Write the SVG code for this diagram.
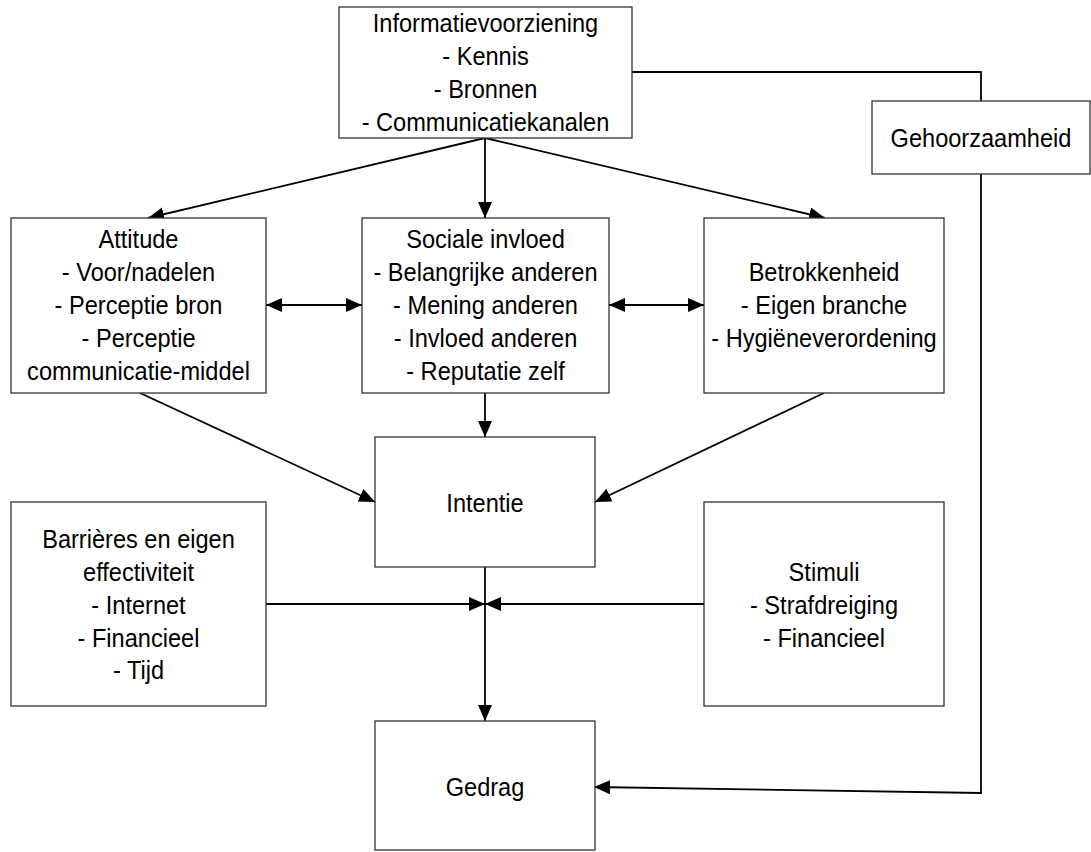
<svg xmlns="http://www.w3.org/2000/svg" width="1091" height="852" viewBox="0 0 1091 852">
  <style>
    .box { fill: #ffffff; stroke: #333333; stroke-width: 1.3; }
    .lbl { font-family: "Liberation Sans", Arial, sans-serif; font-size: 26.5px; fill: #000000; text-anchor: middle; }
    .wire { fill: none; stroke: #000000; stroke-width: 1.8; }
    .arrow { marker-end: url(#head); }
    .both { marker-start: url(#head); marker-end: url(#head); }
  </style>
  <defs>
    <marker id="head" markerUnits="userSpaceOnUse" markerWidth="18" markerHeight="16" refX="16" refY="7" orient="auto-start-reverse">
      <path d="M0,0 L16,7 L0,14 z" fill="#000000"/>
    </marker>
  </defs>

  <!-- connectors -->
  <g id="connectors">
    <line class="wire arrow" x1="485" y1="138" x2="148" y2="218"/>
    <line class="wire arrow" x1="485" y1="138" x2="485" y2="218"/>
    <line class="wire arrow" x1="485" y1="138" x2="825" y2="218"/>
    <line class="wire both" x1="266" y1="305" x2="362" y2="305"/>
    <line class="wire both" x1="609" y1="305" x2="704" y2="305"/>
    <line class="wire arrow" x1="140" y1="393" x2="375" y2="502"/>
    <line class="wire arrow" x1="485" y1="393" x2="485" y2="437"/>
    <line class="wire arrow" x1="824" y1="393" x2="595" y2="502"/>
    <line class="wire arrow" x1="485" y1="567" x2="485" y2="721"/>
    <line class="wire arrow" x1="266" y1="604" x2="485" y2="604"/>
    <line class="wire arrow" x1="704" y1="604" x2="485" y2="604"/>
    <path class="wire arrow" d="M632,72 L981,72 L981,793 L594,787"/>
  </g>

  <!-- nodes -->
  <g id="informatievoorziening">
    <rect class="box" x="339" y="7" width="293" height="131"/>
    <g class="lbl" transform="translate(485.5,0) scale(0.89,1)">
      <text x="0" y="32">Informatievoorziening</text>
      <text x="0" y="65">- Kennis</text>
      <text x="0" y="98">- Bronnen</text>
      <text x="0" y="131">- Communicatiekanalen</text>
    </g>
  </g>

  <g id="gehoorzaamheid">
    <rect class="box" x="872" y="101" width="218" height="73"/>
    <g class="lbl" transform="translate(981,0) scale(0.89,1)">
      <text x="0" y="147">Gehoorzaamheid</text>
    </g>
  </g>

  <g id="attitude">
    <rect class="box" x="11" y="218" width="255" height="175"/>
    <g class="lbl" transform="translate(138.5,0) scale(0.89,1)">
      <text x="0" y="248">Attitude</text>
      <text x="0" y="281">- Voor/nadelen</text>
      <text x="0" y="314">- Perceptie bron</text>
      <text x="0" y="347">- Perceptie</text>
      <text x="0" y="380">communicatie-middel</text>
    </g>
  </g>

  <g id="sociale-invloed">
    <rect class="box" x="362" y="218" width="247" height="175"/>
    <g class="lbl" transform="translate(485.5,0) scale(0.89,1)">
      <text x="0" y="248">Sociale invloed</text>
      <text x="0" y="281">- Belangrijke anderen</text>
      <text x="0" y="314">- Mening anderen</text>
      <text x="0" y="347">- Invloed anderen</text>
      <text x="0" y="380">- Reputatie zelf</text>
    </g>
  </g>

  <g id="betrokkenheid">
    <rect class="box" x="704" y="218" width="240" height="175"/>
    <g class="lbl" transform="translate(824,0) scale(0.89,1)">
      <text x="0" y="281">Betrokkenheid</text>
      <text x="0" y="314">- Eigen branche</text>
      <text x="0" y="347">- Hygiëneverordening</text>
    </g>
  </g>

  <g id="intentie">
    <rect class="box" x="375" y="437" width="220" height="130"/>
    <g class="lbl" transform="translate(485,0) scale(0.89,1)">
      <text x="0" y="512">Intentie</text>
    </g>
  </g>

  <g id="barrieres">
    <rect class="box" x="11" y="502" width="255" height="204"/>
    <g class="lbl" transform="translate(138.5,0) scale(0.89,1)">
      <text x="0" y="548">Barrières en eigen</text>
      <text x="0" y="581">effectiviteit</text>
      <text x="0" y="614">- Internet</text>
      <text x="0" y="647">- Financieel</text>
      <text x="0" y="679">- Tijd</text>
    </g>
  </g>

  <g id="stimuli">
    <rect class="box" x="704" y="502" width="240" height="204"/>
    <g class="lbl" transform="translate(824,0) scale(0.89,1)">
      <text x="0" y="581">Stimuli</text>
      <text x="0" y="614">- Strafdreiging</text>
      <text x="0" y="647">- Financieel</text>
    </g>
  </g>

  <g id="gedrag">
    <rect class="box" x="375" y="721" width="220" height="129"/>
    <g class="lbl" transform="translate(485,0) scale(0.89,1)">
      <text x="0" y="796">Gedrag</text>
    </g>
  </g>
</svg>
